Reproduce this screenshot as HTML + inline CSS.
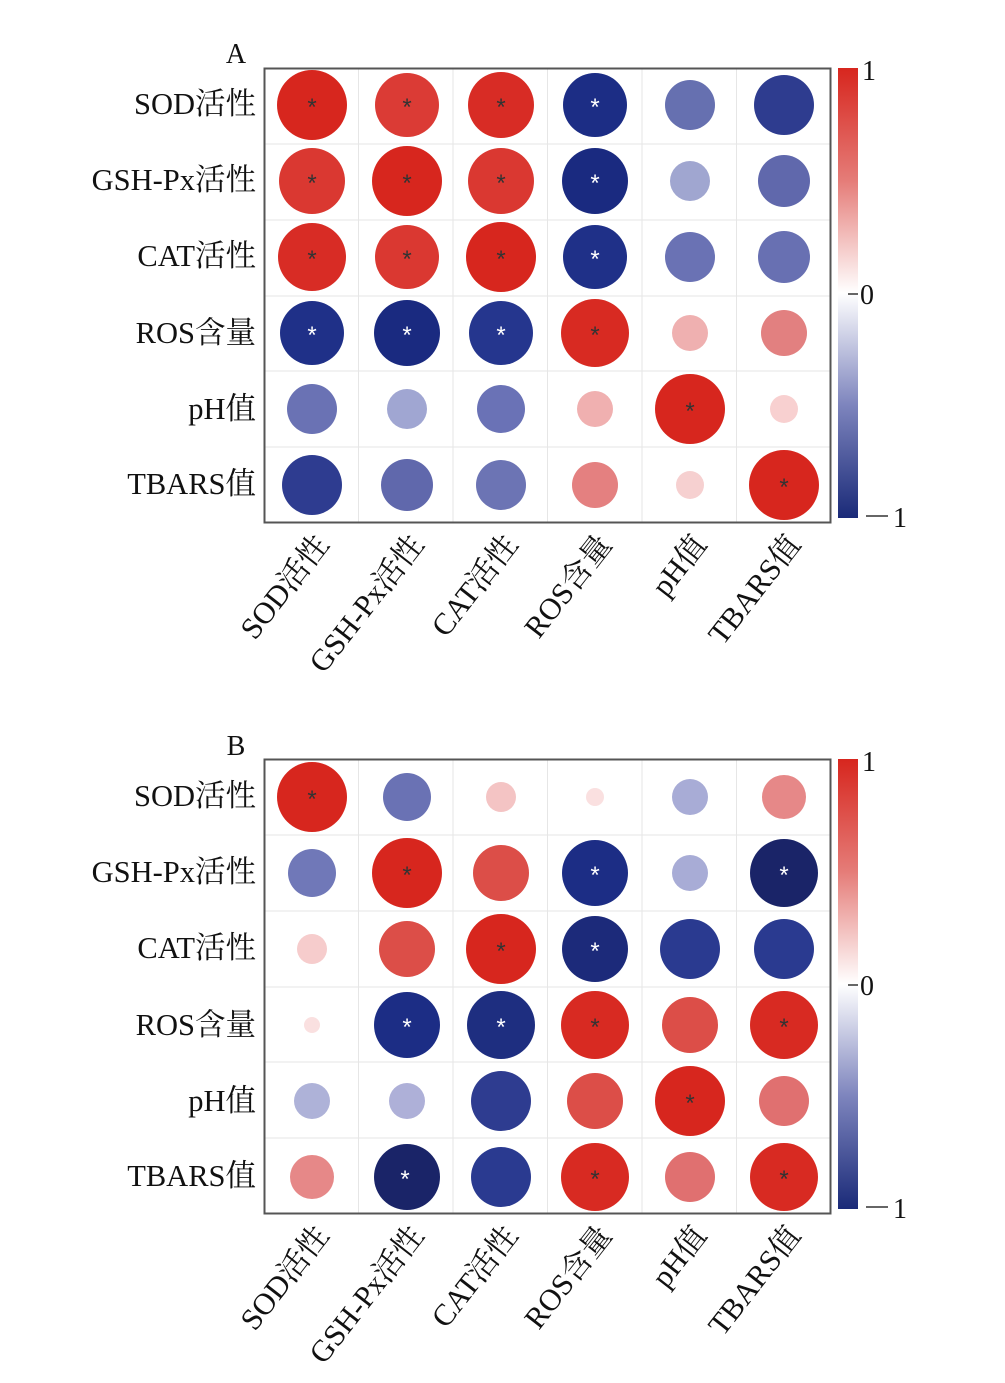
<!DOCTYPE html>
<html><head><meta charset="utf-8"><style>body{margin:0;background:#fff}svg{display:block}</style></head><body>
<svg width="1005" height="1383" viewBox="0 0 1005 1383" xmlns="http://www.w3.org/2000/svg" font-family="Liberation Serif, Noto Serif CJK SC, serif">
<defs>
<linearGradient id="cb" x1="0" y1="0" x2="0" y2="1">
<stop offset="0" stop-color="#d7261e"/><stop offset="0.25" stop-color="#e57c78"/><stop offset="0.5" stop-color="#ffffff"/><stop offset="0.75" stop-color="#7d84bd"/><stop offset="1" stop-color="#1a2a78"/>
</linearGradient>
<g id="grid">
<rect x="0" y="0" width="567" height="455" fill="#fff"/>
<g stroke="#e6e6e6" stroke-width="1">
<line x1="94.5" y1="0" x2="94.5" y2="455"/><line x1="189" y1="0" x2="189" y2="455"/><line x1="283.5" y1="0" x2="283.5" y2="455"/><line x1="378" y1="0" x2="378" y2="455"/><line x1="472.5" y1="0" x2="472.5" y2="455"/>
<line x1="0" y1="76" x2="567" y2="76"/><line x1="0" y1="152" x2="567" y2="152"/><line x1="0" y1="228" x2="567" y2="228"/><line x1="0" y1="303" x2="567" y2="303"/><line x1="0" y1="379" x2="567" y2="379"/>
</g></g>
</defs>
<g font-size="28" fill="#111">
<text x="236" y="63" text-anchor="middle">A</text>
<text x="236" y="755" text-anchor="middle">B</text>
</g>
<!-- Panel A -->
<use href="#grid" x="264" y="68"/>
<rect x="264.5" y="68.5" width="566" height="454" fill="none" stroke="#555" stroke-width="2"/>
<g>
<circle cx="312" cy="105" r="35" fill="#d7261e"/><circle cx="407" cy="105" r="32" fill="#db3b35"/><circle cx="501" cy="105" r="33" fill="#d82c25"/><circle cx="595" cy="105" r="32" fill="#1c2d85"/><circle cx="690" cy="105" r="25" fill="#6670b0"/><circle cx="784" cy="105" r="30" fill="#2e3c8f"/>
<circle cx="312" cy="181" r="33" fill="#da3831"/><circle cx="407" cy="181" r="35" fill="#d7261e"/><circle cx="501" cy="181" r="33" fill="#da3831"/><circle cx="595" cy="181" r="33" fill="#1a2a80"/><circle cx="690" cy="181" r="20" fill="#a0a6d0"/><circle cx="784" cy="181" r="26" fill="#6068ac"/>
<circle cx="312" cy="257" r="34" fill="#d82c25"/><circle cx="407" cy="257" r="32" fill="#da3831"/><circle cx="501" cy="257" r="35" fill="#d7261e"/><circle cx="595" cy="257" r="32" fill="#1f3088"/><circle cx="690" cy="257" r="25" fill="#6a72b4"/><circle cx="784" cy="257" r="26" fill="#6870b2"/>
<circle cx="312" cy="333" r="32" fill="#1f3088"/><circle cx="407" cy="333" r="33" fill="#1a2a80"/><circle cx="501" cy="333" r="32" fill="#25368e"/><circle cx="595" cy="333" r="34" fill="#d82a22"/><circle cx="690" cy="333" r="18" fill="#efb0b0"/><circle cx="784" cy="333" r="23" fill="#e28080"/>
<circle cx="312" cy="409" r="25" fill="#6a72b4"/><circle cx="407" cy="409" r="20" fill="#a0a6d2"/><circle cx="501" cy="409" r="24" fill="#6a72b6"/><circle cx="595" cy="409" r="18" fill="#f0b0b0"/><circle cx="690" cy="409" r="35" fill="#d7261e"/><circle cx="784" cy="409" r="14" fill="#f8d0d0"/>
<circle cx="312" cy="485" r="30" fill="#2e3c90"/><circle cx="407" cy="485" r="26" fill="#6068ac"/><circle cx="501" cy="485" r="25" fill="#6c74b4"/><circle cx="595" cy="485" r="23" fill="#e48080"/><circle cx="690" cy="485" r="14" fill="#f6d0d0"/><circle cx="784" cy="485" r="35" fill="#d7261e"/>
</g>
<g font-size="24" text-anchor="middle" font-family="Liberation Sans, sans-serif">
<g fill="#333"><text x="312" y="115">*</text><text x="407" y="115">*</text><text x="501" y="115">*</text><text x="312" y="191">*</text><text x="407" y="191">*</text><text x="501" y="191">*</text><text x="312" y="267">*</text><text x="407" y="267">*</text><text x="501" y="267">*</text><text x="595" y="343">*</text><text x="690" y="419">*</text><text x="784" y="495">*</text></g>
<g fill="#fff"><text x="595" y="115">*</text><text x="595" y="191">*</text><text x="595" y="267">*</text><text x="312" y="343">*</text><text x="407" y="343">*</text><text x="501" y="343">*</text></g>
</g>
<rect x="838" y="68" width="20" height="450" fill="url(#cb)"/>
<g stroke="#333" stroke-width="1.5"><line x1="848" y1="294" x2="858" y2="294"/><line x1="866" y1="516" x2="888" y2="516"/></g>
<g font-size="28" fill="#111"><text x="862" y="80">1</text><text x="860" y="304">0</text><text x="893" y="527">1</text></g>
<g font-size="30.5" fill="#111" text-anchor="end">
<text x="256" y="114">SOD活性</text><text x="256" y="190">GSH-Px活性</text><text x="256" y="266">CAT活性</text><text x="256" y="343">ROS含量</text><text x="256" y="419">pH值</text><text x="256" y="494">TBARS值</text>
<text transform="translate(330,545) rotate(-52)">SOD活性</text>
<text transform="translate(425,545) rotate(-52)">GSH-Px活性</text>
<text transform="translate(519,545) rotate(-52)">CAT活性</text>
<text transform="translate(613,545) rotate(-52)">ROS含量</text>
<text transform="translate(708,545) rotate(-52)">pH值</text>
<text transform="translate(802,545) rotate(-52)">TBARS值</text>
</g>
<!-- Panel B -->
<use href="#grid" x="264" y="759"/>
<rect x="264.5" y="759.5" width="566" height="454" fill="none" stroke="#555" stroke-width="2"/>
<g>
<circle cx="312" cy="797" r="35" fill="#d7261e"/><circle cx="407" cy="797" r="24" fill="#6a72b4"/><circle cx="501" cy="797" r="15" fill="#f4c4c4"/><circle cx="595" cy="797" r="9" fill="#fae0e0"/><circle cx="690" cy="797" r="18" fill="#a8acd6"/><circle cx="784" cy="797" r="22" fill="#e68888"/>
<circle cx="312" cy="873" r="24" fill="#7078b8"/><circle cx="407" cy="873" r="35" fill="#d7261e"/><circle cx="501" cy="873" r="28" fill="#dc4e48"/><circle cx="595" cy="873" r="33" fill="#1c2d85"/><circle cx="690" cy="873" r="18" fill="#a8acd6"/><circle cx="784" cy="873" r="34" fill="#1a2468"/>
<circle cx="312" cy="949" r="15" fill="#f6cccc"/><circle cx="407" cy="949" r="28" fill="#dc4e48"/><circle cx="501" cy="949" r="35" fill="#d7261e"/><circle cx="595" cy="949" r="33" fill="#1c2a7a"/><circle cx="690" cy="949" r="30" fill="#2a3a90"/><circle cx="784" cy="949" r="30" fill="#2a3a90"/>
<circle cx="312" cy="1025" r="8" fill="#fae0e0"/><circle cx="407" cy="1025" r="33" fill="#1c2d85"/><circle cx="501" cy="1025" r="34" fill="#1e2e80"/><circle cx="595" cy="1025" r="34" fill="#d82a22"/><circle cx="690" cy="1025" r="28" fill="#dc4e48"/><circle cx="784" cy="1025" r="34" fill="#d82a22"/>
<circle cx="312" cy="1101" r="18" fill="#aeb2d8"/><circle cx="407" cy="1101" r="18" fill="#aeb0d8"/><circle cx="501" cy="1101" r="30" fill="#2e3c90"/><circle cx="595" cy="1101" r="28" fill="#dc4e48"/><circle cx="690" cy="1101" r="35" fill="#d7261e"/><circle cx="784" cy="1101" r="25" fill="#e07070"/>
<circle cx="312" cy="1177" r="22" fill="#e68888"/><circle cx="407" cy="1177" r="33" fill="#1a2468"/><circle cx="501" cy="1177" r="30" fill="#2a3a90"/><circle cx="595" cy="1177" r="34" fill="#d82a22"/><circle cx="690" cy="1177" r="25" fill="#e07070"/><circle cx="784" cy="1177" r="34" fill="#d82a22"/>
</g>
<g font-size="24" text-anchor="middle" font-family="Liberation Sans, sans-serif">
<g fill="#333"><text x="312" y="807">*</text><text x="407" y="883">*</text><text x="501" y="959">*</text><text x="595" y="1035">*</text><text x="784" y="1035">*</text><text x="690" y="1111">*</text><text x="595" y="1187">*</text><text x="784" y="1187">*</text></g>
<g fill="#fff"><text x="595" y="883">*</text><text x="784" y="883">*</text><text x="595" y="959">*</text><text x="407" y="1035">*</text><text x="501" y="1035">*</text><text x="405" y="1187">*</text></g>
</g>
<rect x="838" y="759" width="20" height="450" fill="url(#cb)"/>
<g stroke="#333" stroke-width="1.5"><line x1="848" y1="985" x2="858" y2="985"/><line x1="866" y1="1207" x2="888" y2="1207"/></g>
<g font-size="28" fill="#111"><text x="862" y="771">1</text><text x="860" y="995">0</text><text x="893" y="1218">1</text></g>
<g font-size="30.5" fill="#111" text-anchor="end">
<text x="256" y="806">SOD活性</text><text x="256" y="882">GSH-Px活性</text><text x="256" y="958">CAT活性</text><text x="256" y="1035">ROS含量</text><text x="256" y="1111">pH值</text><text x="256" y="1186">TBARS值</text>
<text transform="translate(330,1236) rotate(-52)">SOD活性</text>
<text transform="translate(425,1236) rotate(-52)">GSH-Px活性</text>
<text transform="translate(519,1236) rotate(-52)">CAT活性</text>
<text transform="translate(613,1236) rotate(-52)">ROS含量</text>
<text transform="translate(708,1236) rotate(-52)">pH值</text>
<text transform="translate(802,1236) rotate(-52)">TBARS值</text>
</g>
</svg>
</body></html>
